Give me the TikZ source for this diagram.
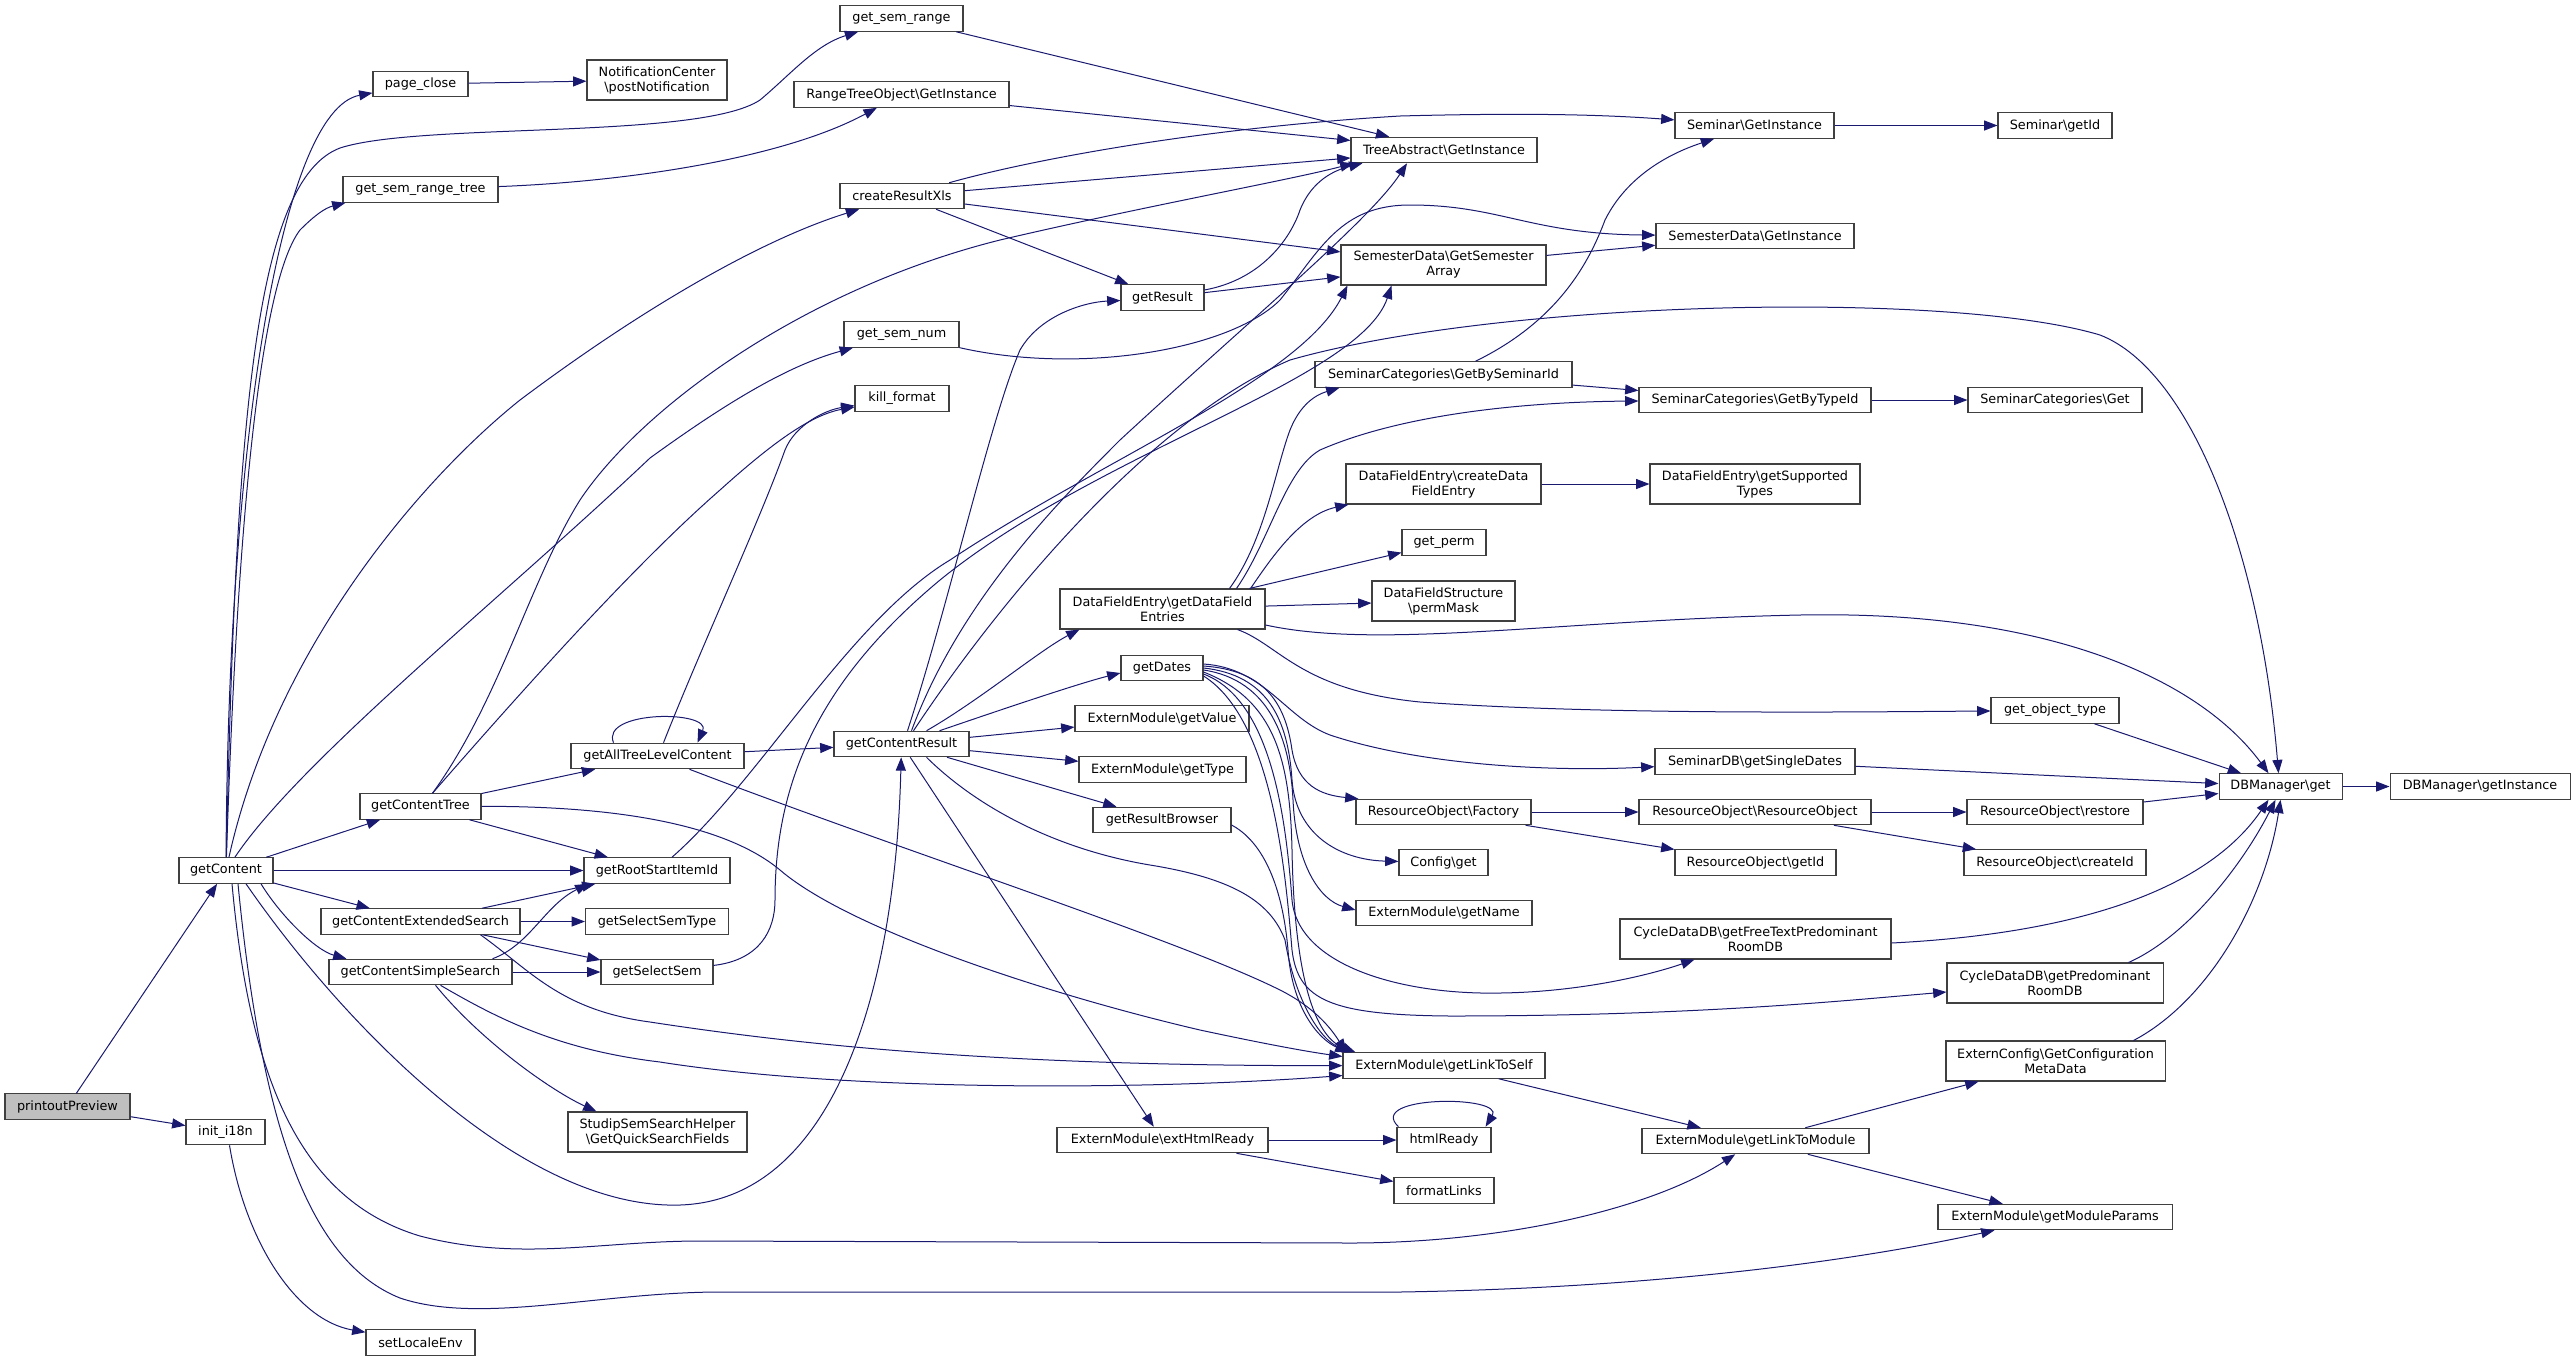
\documentclass[tikz,border=0pt]{standalone}
\usepackage{fontspec}
\setmainfont{DejaVu Sans}
\usetikzlibrary{arrows.meta,calc}
\definecolor{edgec}{HTML}{191970}
\definecolor{boxc}{HTML}{404040}
\definecolor{rootfill}{HTML}{BFBFBF}
\tikzset{
  box/.style={draw=boxc, fill=white, line width=0.8pt, inner sep=0pt, align=center, font=\fontsize{9.6}{11.25}\selectfont},
  e/.style={draw=edgec, line width=0.75pt, -{Triangle[length=10pt,width=7.5pt]}},
}
\newcommand\bx[6][]{\node[box,#1,minimum width=#4*0.75pt,minimum height=#5*0.75pt] (#2) at #3 {#6};}
\begin{document}
\begin{tikzpicture}[x=0.75pt,y=-0.75pt]
\useasboundingbox (0,0) rectangle (2575,1361);
% column 0-1
\bx[fill=rootfill]{pp}{(67.5,1106.5)}{125}{25.5}{printoutPreview}
\bx{gc}{(226,870.5)}{94}{25.5}{getContent}
\bx{ii}{(225.5,1132)}{79}{25.5}{init\_i18n}
% column 2
\bx{pc}{(420.5,84)}{95}{25.5}{page\_close}
\bx{gsrt}{(420.5,189.5)}{155}{25.5}{get\_sem\_range\_tree}
\bx{gct}{(420.5,806.5)}{121}{25.5}{getContentTree}
\bx{ces}{(420.5,921.5)}{199}{25.5}{getContentExtendedSearch}
\bx{css}{(420.5,972)}{183}{25.5}{getContentSimpleSearch}
\bx{sle}{(420.5,1342.5)}{109}{25.5}{setLocaleEnv}
% column 3
\bx{nc}{(657,80)}{140}{40}{NotificationCenter\\\textbackslash postNotification}
\bx{gatlc}{(657.5,756)}{173}{25.5}{getAllTreeLevelContent}
\bx{grsi}{(657,870.5)}{146}{25.5}{getRootStartItemId}
\bx{gsst}{(657,921.5)}{143}{25.5}{getSelectSemType}
\bx{gss}{(657,972)}{112}{25.5}{getSelectSem}
\bx{ssh}{(657.5,1132)}{179}{40}{StudipSemSearchHelper\\\textbackslash GetQuickSearchFields}
% column 4
\bx{gsr}{(901.5,18.5)}{123}{25.5}{get\_sem\_range}
\bx{rto}{(901.5,94.5)}{215}{25.5}{RangeTreeObject\textbackslash GetInstance}
\bx{cr}{(902,196)}{124}{25.5}{createResultXls}
\bx{gsn}{(901.5,334.5)}{115}{25.5}{get\_sem\_num}
\bx{kf}{(902,398.5)}{94}{25.5}{kill\_format}
\bx{gcr}{(901.5,744)}{135}{25.5}{getContentResult}
% column 5
\bx{gr}{(1162.5,297.5)}{83}{25.5}{getResult}
\bx{dfe}{(1162.5,609)}{205}{40}{DataFieldEntry\textbackslash getDataField\\Entries}
\bx{gd}{(1162,668)}{82}{25.5}{getDates}
\bx{gv}{(1162,718.5)}{174}{25.5}{ExternModule\textbackslash getValue}
\bx{gt}{(1162.5,769.5)}{167}{25.5}{ExternModule\textbackslash getType}
\bx{grb}{(1162,820)}{138}{25.5}{getResultBrowser}
\bx{ehr}{(1162.5,1140)}{211}{25.5}{ExternModule\textbackslash extHtmlReady}
% column 6
\bx{ta}{(1444,150)}{186}{25.5}{TreeAbstract\textbackslash GetInstance}
\bx{sdgsa}{(1443.5,265)}{205}{40}{SemesterData\textbackslash GetSemester\\Array}
\bx{scbs}{(1443.5,374.5)}{257}{25.5}{SeminarCategories\textbackslash GetBySeminarId}
\bx{cdfe}{(1443.5,484)}{195}{40}{DataFieldEntry\textbackslash createData\\FieldEntry}
\bx{gp}{(1444,542.5)}{84}{25.5}{get\_perm}
\bx{pm}{(1443.5,601)}{143}{40}{DataFieldStructure\\\textbackslash permMask}
\bx{rof}{(1443.5,812)}{175}{25.5}{ResourceObject\textbackslash Factory}
\bx{cg}{(1443.5,862.5)}{89}{25.5}{Config\textbackslash get}
\bx{gn}{(1444,913)}{176}{25.5}{ExternModule\textbackslash getName}
\bx{gls}{(1444,1065.5)}{202}{25.5}{ExternModule\textbackslash getLinkToSelf}
\bx{hr}{(1444,1140)}{94}{25.5}{htmlReady}
\bx{fl}{(1444,1190.5)}{100}{25.5}{formatLinks}
% column 7
\bx{sgi}{(1754.5,125.5)}{159}{25.5}{Seminar\textbackslash GetInstance}
\bx{sdgi}{(1755,236)}{198}{25.5}{SemesterData\textbackslash GetInstance}
\bx{scbt}{(1755,400)}{232}{25.5}{SeminarCategories\textbackslash GetByTypeId}
\bx{gst}{(1755,484)}{210}{40}{DataFieldEntry\textbackslash getSupported\\Types}
\bx{sdb}{(1755,761.5)}{200}{25.5}{SeminarDB\textbackslash getSingleDates}
\bx{ror}{(1755,812)}{232}{25.5}{ResourceObject\textbackslash ResourceObject}
\bx{rgi}{(1755.5,862.5)}{161}{25.5}{ResourceObject\textbackslash getId}
\bx{cft}{(1755.5,939)}{271}{40}{CycleDataDB\textbackslash getFreeTextPredominant\\RoomDB}
\bx{gltm}{(1755.5,1141)}{227}{25.5}{ExternModule\textbackslash getLinkToModule}
% column 8
\bx{sgid}{(2055,125.5)}{114}{25.5}{Seminar\textbackslash getId}
\bx{scg}{(2055,400)}{174}{25.5}{SeminarCategories\textbackslash Get}
\bx{got}{(2055,710.5)}{128}{25.5}{get\_object\_type}
\bx{rr}{(2055,812)}{176}{25.5}{ResourceObject\textbackslash restore}
\bx{rci}{(2055,862.5)}{182}{25.5}{ResourceObject\textbackslash createId}
\bx{cpr}{(2055,983)}{216}{40}{CycleDataDB\textbackslash getPredominant\\RoomDB}
\bx{ecm}{(2055.5,1061)}{219}{40}{ExternConfig\textbackslash GetConfiguration\\MetaData}
\bx{gmp}{(2055,1217)}{234}{25.5}{ExternModule\textbackslash getModuleParams}
% column 9-10
\bx{dbg}{(2280.5,786.5)}{123}{25.5}{DBManager\textbackslash get}
\bx{dbgi}{(2480,786.5)}{180}{25.5}{DBManager\textbackslash getInstance}

% ---------- edges ----------
\draw[e] (pp) -- (gc);
\draw[e] (pp) -- (ii);
\draw[e] ($(ii.south)+(4,0)$) .. controls (245,1240) and (295,1320) .. ($(sle.north west)+(0,3)$);
\draw[e] (gc) .. controls (228,450) and (280,110) .. (pc);
\draw[e] (gc) .. controls (236,420) and (255,180) .. (340,148) .. controls (420,122) and (700,140) .. (760,100) .. controls (790,75) and (815,45) .. (gsr);
\draw[e] (gc) .. controls (238,500) and (262,280) .. (300,230) .. controls (315,215) and (325,208) .. ($(gsrt.south west)+(3,0)$);
\draw[e] (gc) .. controls (275,650) and (420,480) .. (520,400) .. controls (640,310) and (760,240) .. (cr);
\draw[e] (gc) .. controls (300,760) and (500,600) .. (650,458) .. controls (730,400) and (790,365) .. (gsn);
\draw[e] (gc) -- (gct);
\draw[e] (gc) -- (grsi);
\draw[e] (gc) -- (ces);
\draw[e] ($(gc.south)+(35,0)$) .. controls (280,915) and (315,950) .. ($(css.north west)+(18,0)$);
\draw[e] ($(gc.south)+(20,0)$) .. controls (340,1020) and (520,1210) .. (680,1205) .. controls (830,1200) and (895,1000) .. (gcr);
\draw[e] ($(gc.south)+(6,0)$) .. controls (250,1080) and (300,1200) .. (420,1236) .. controls (520,1262) and (600,1241) .. (700,1241) -- (1350,1243) .. controls (1500,1243) and (1650,1210) .. (gltm);
\draw[e] ($(gc.south)+(12,0)$) .. controls (262,1130) and (310,1262) .. (400,1298) .. controls (480,1325) and (600,1292) .. (720,1292) -- (1400,1292) .. controls (1650,1288) and (1850,1262) .. (gmp);
\draw[e] (pc) -- (nc);
\draw[e] (gsr) -- (ta);
\draw[e] (gsrt) .. controls (620,182) and (780,160) .. (rto);
\draw[e] (rto) -- (ta);
\draw[e] (cr) -- (ta);
\draw[e] (cr) .. controls (1030,160) and (1200,128) .. (1400,116) .. controls (1550,112) and (1620,116) .. (sgi);
\draw[e] (cr) -- (sdgsa);
\draw[e] (cr) -- (gr);
\draw[e] (gr) .. controls (1260,280) and (1290,240) .. (1300,210) .. controls (1312,180) and (1335,170) .. ($(ta.south west)+(12,0)$);
\draw[e] (gr) -- (sdgsa);
\draw[e] (gsn) .. controls (1080,375) and (1230,350) .. (1280,300) .. controls (1320,250) and (1340,205) .. (1410,205) .. controls (1500,205) and (1530,234) .. (sdgi);
\draw[e] (sdgsa) -- (sdgi);
\draw[e] (sgi) -- (sgid);
\draw[e] ($(scbs.north)+(32,0)$) .. controls (1560,320) and (1590,260) .. (1605,220) .. controls (1630,170) and (1680,150) .. (sgi);
\draw[e] (scbs) -- (scbt);
\draw[e] (scbt) -- (scg);
\draw[e] (gct) -- (gatlc);
\draw[e] (gct) -- (grsi);
\draw[e] ($(gct.north)+(12,0)$) .. controls (540,670) and (640,560) .. (720,490) .. controls (770,445) and (810,415) .. (kf);
\draw[e] ($(gct.north)+(12,0)$) .. controls (500,700) and (530,580) .. (580,500) .. controls (640,410) and (800,290) .. (1000,240) .. controls (1150,205) and (1290,180) .. ($(ta.south west)+(3,0)$);
\draw[e] (gct) .. controls (600,806) and (720,820) .. (780,870) .. controls (850,930) and (1050,995) .. (1200,1030) .. controls (1270,1045) and (1310,1052) .. ($(gls.west)+(0,-9)$);
\draw[e] ($(gatlc.north)+(-44,0)$) .. controls (600,710) and (712,710) .. ($(gatlc.north)+(40,0)$);
\draw[e] (gatlc) -- (gcr);
\draw[e] ($(gatlc.north)+(6,0)$) .. controls (700,650) and (760,520) .. (785,450) .. controls (795,425) and (825,410) .. (kf);
\draw[e] ($(gatlc.south)+(32,0)$) .. controls (900,850) and (1180,940) .. (1280,990) .. controls (1320,1010) and (1335,1035) .. ($(gls.north west)+(4,0)$);
\draw[e] ($(grsi.north)+(15,0)$) .. controls (760,780) and (850,620) .. (950,560) .. controls (1100,460) and (1300,380) .. ($(sdgsa.south west)+(7,0)$);
\draw[e] (ces) -- (gsst);
\draw[e] (ces) -- (gss);
\draw[e] (ces) -- (grsi);
\draw[e] ($(ces.south east)+(-40,0)$) .. controls (530,970) and (560,1010) .. (650,1022) .. controls (800,1045) and (1000,1066) .. (gls);
\draw[e] (css) -- (gss);
\draw[e] ($(css.north)+(72,0)$) .. controls (530,945) and (545,905) .. ($(grsi.south west)+(5,0)$);
\draw[e] ($(css.south)+(20,0)$) .. controls (500,1020) and (560,1050) .. (660,1062) .. controls (850,1092) and (1150,1090) .. ($(gls.west)+(0,10)$);
\draw[e] ($(css.south)+(15,0)$) .. controls (480,1040) and (550,1090) .. ($(ssh.north west)+(29,0)$);
\draw[e] (gss) .. controls (760,960) and (775,930) .. (775,900) .. controls (775,780) and (820,680) .. (940,580) .. controls (1100,450) and (1360,380) .. ($(sdgsa.south)+(-52,0)$);
\draw[e] ($(gcr.north)+(6,0)$) .. controls (950,600) and (990,420) .. (1020,350) .. controls (1040,315) and (1085,302) .. ($(gr.west)+(0,3)$);
\draw[e] ($(gcr.north)+(10,0)$) .. controls (960,600) and (1060,500) .. (1120,440) .. controls (1250,320) and (1370,220) .. ($(ta.south)+(-37,0)$);
\draw[e] ($(gcr.north)+(12,0)$) .. controls (1000,600) and (1150,420) .. (1290,360) .. controls (1500,300) and (1950,290) .. (2100,335) .. controls (2190,370) and (2260,550) .. ($(dbg.north)+(-2,0)$);
\draw[e] ($(gcr.north)+(25,0)$) .. controls (980,700) and (1040,650) .. ($(dfe.south west)+(20,0)$);
\draw[e] ($(gcr.north east)+(-30,0)$) .. controls (1000,710) and (1080,683) .. ($(gd.west)+(0,5)$);
\draw[e] (gcr) -- (gv);
\draw[e] (gcr) -- (gt);
\draw[e] (gcr) -- (grb);
\draw[e] (gcr) -- (ehr);
\draw[e] ($(gcr.south)+(25,0)$) .. controls (980,810) and (1060,850) .. (1150,865) .. controls (1230,878) and (1270,900) .. (1285,940) .. controls (1295,1000) and (1320,1040) .. ($(gls.north west)+(9,0)$);
\draw[e] ($(dfe.north)+(67,0)$) .. controls (1265,540) and (1275,470) .. (1290,430) .. controls (1300,405) and (1315,395) .. ($(scbs.south west)+(25,0)$);
\draw[e] ($(dfe.north)+(74,0)$) .. controls (1270,540) and (1285,470) .. (1320,450) .. controls (1400,415) and (1520,402) .. (scbt);
\draw[e] ($(dfe.north east)+(-15,0)$) .. controls (1270,560) and (1300,515) .. ($(cdfe.south west)+(3,0)$);
\draw[e] (dfe) -- (gp);
\draw[e] (dfe) -- (pm);
\draw[e] ($(dfe.east)+(0,16)$) .. controls (1380,650) and (1560,620) .. (1800,615) .. controls (2050,610) and (2200,680) .. ($(dbg.north)+(-12,0)$);
\draw[e] ($(dfe.south)+(75,0)$) .. controls (1280,645) and (1300,690) .. (1420,702) .. controls (1600,715) and (1850,712) .. (got);
\draw[e] (cdfe) -- (gst);
\draw[e] ($(gd.east)+(0,-4)$) .. controls (1265,668) and (1285,718) .. (1330,735) .. controls (1420,765) and (1550,772) .. (sdb);
\draw[e] ($(gd.east)+(0,-2)$) .. controls (1262,670) and (1285,700) .. (1292,750) .. controls (1298,785) and (1320,795) .. ($(rof.north west)+(3,0)$);
\draw[e] (gd.east) .. controls (1268,675) and (1288,720) .. (1292,780) .. controls (1296,835) and (1340,860) .. (cg);
\draw[e] ($(gd.east)+(0,2)$) .. controls (1270,680) and (1290,740) .. (1293,800) .. controls (1296,865) and (1320,900) .. ($(gn.west)+(0,-3)$);
\draw[e] ($(gd.east)+(0,4)$) .. controls (1275,700) and (1290,760) .. (1292,850) .. controls (1294,960) and (1310,1035) .. ($(gls.north west)+(13,0)$);
\draw[e] ($(gd.east)+(0,6)$) .. controls (1272,700) and (1286,820) .. (1292,900) .. controls (1298,965) and (1400,995) .. (1500,993) .. controls (1580,992) and (1650,975) .. ($(cft.south west)+(75,0)$);
\draw[e] ($(gd.east)+(0,8)$) .. controls (1274,720) and (1286,880) .. (1292,950) .. controls (1298,1000) and (1330,1015) .. (1450,1016) .. controls (1700,1016) and (1850,1000) .. ($(cpr.west)+(0,9)$);
\draw[e] ($(grb.east)+(0,5)$) .. controls (1260,840) and (1282,880) .. (1288,950) .. controls (1292,1010) and (1320,1040) .. ($(gls.north west)+(6,0)$);
\draw[e] (got) -- (dbg);
\draw[e] (sdb) -- (dbg);
\draw[e] (rof) -- (ror);
\draw[e] (rof) -- (rgi);
\draw[e] (ror) -- (rr);
\draw[e] (ror) -- (rci);
\draw[e] (rr) -- (dbg);
\draw[e] ($(cft.east)+(0,4)$) .. controls (2050,935) and (2200,900) .. ($(dbg.south)+(-12,0)$);
\draw[e] ($(cpr.north east)+(-35,0)$) .. controls (2190,935) and (2245,860) .. ($(dbg.south)+(-5,0)$);
\draw[e] ($(ecm.north east)+(-32,0)$) .. controls (2210,1000) and (2265,900) .. (dbg.south);
\draw[e] (dbg) -- (dbgi);
\draw[e] (gls) -- (gltm);
\draw[e] (gltm) -- (ecm);
\draw[e] (gltm) -- (gmp);
\draw[e] (ehr) -- (hr);
\draw[e] (ehr) -- (fl);
\draw[e] ($(hr.north west)+(2,0)$) .. controls (1365,1095) and (1505,1095) .. ($(hr.north east)+(-6,0)$);
\end{tikzpicture}
\end{document}
